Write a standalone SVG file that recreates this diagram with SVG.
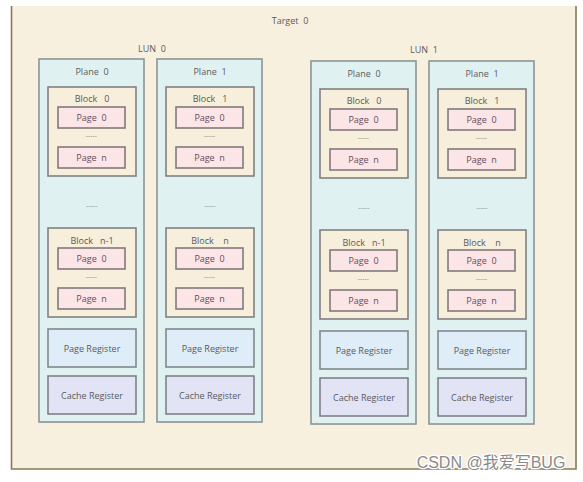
<svg xmlns="http://www.w3.org/2000/svg" width="583" height="482" viewBox="0 0 583 482" xml:space="preserve">
<style>
text{font-family:"Open Sans","Noto Sans","DejaVu Sans",sans-serif;font-size:9px;text-anchor:middle;dominant-baseline:central;fill:#5a5a5a;white-space:pre}
.plane{fill:#dff2f1;stroke:#8c9494;stroke-width:1.6}
.block{fill:#f7eedb;stroke:#808080;stroke-width:1.6}
.page{fill:#fbe5e6;stroke:#827a7b;stroke-width:1.6}
.preg{fill:#deedf8;stroke:#808888;stroke-width:1.6}
.creg{fill:#e3e3f6;stroke:#808088;stroke-width:1.6}
.pt{fill:#6a4a58}
.dash{font-size:7px;fill:#8a8a8a}
</style>
<defs>
<g id="blk">
<rect class="block" x="0" y="0" width="88" height="89"/>
<rect class="page" x="10" y="20" width="67" height="21"/>
<text class="pt" x="43.5" y="30.5">Page  0</text>
<text class="dash" x="43.5" y="48">-----</text>
<rect class="page" x="10" y="60" width="67" height="21"/>
<text class="pt" x="43.5" y="70.5">Page  n</text>
</g>
</defs>
<g id="target">
<rect x="11" y="6" width="565" height="463" fill="#f8f0df"/>
<path d="M11.5 6V469H576V6" fill="none" stroke="#867a5c" stroke-width="1.6"/>
<text x="290" y="20">Target  0</text>
</g>
<g id="lun0">
<text x="152" y="48">LUN  0</text>
<g id="lun0-plane0">
<rect class="plane" x="39" y="59" width="105" height="363"/>
<text x="92" y="71">Plane  0</text>
<g transform="translate(48,87)"><use href="#blk"/><text x="44" y="11.5">Block   0</text></g>
<text class="dash" x="92" y="205">-----</text>
<g transform="translate(48,228)"><use href="#blk"/><text x="44" y="12">Block   n-1</text></g>
<rect class="preg" x="48" y="329" width="88" height="38"/>
<text x="92" y="348">Page Register</text>
<rect class="creg" x="48" y="376" width="88" height="38"/>
<text x="92" y="395">Cache Register</text>
</g>
<g id="lun0-plane1">
<rect class="plane" x="157" y="59" width="105" height="363"/>
<text x="210" y="71">Plane  1</text>
<g transform="translate(166,87)"><use href="#blk"/><text x="44" y="11.5">Block   1</text></g>
<text class="dash" x="210" y="205">-----</text>
<g transform="translate(166,228)"><use href="#blk"/><text x="44" y="12">Block    n</text></g>
<rect class="preg" x="166" y="329" width="88" height="38"/>
<text x="210" y="348">Page Register</text>
<rect class="creg" x="166" y="376" width="88" height="38"/>
<text x="210" y="395">Cache Register</text>
</g>
</g>
<g id="lun1" transform="translate(272,2)">
<text x="152" y="47">LUN  1</text>
<g id="lun1-plane0">
<rect class="plane" x="39" y="59" width="105" height="363"/>
<text x="92" y="71">Plane  0</text>
<g transform="translate(48,87)"><use href="#blk"/><text x="44" y="11.5">Block   0</text></g>
<text class="dash" x="92" y="205">-----</text>
<g transform="translate(48,228)"><use href="#blk"/><text x="44" y="12">Block   n-1</text></g>
<rect class="preg" x="48" y="329" width="88" height="38"/>
<text x="92" y="348">Page Register</text>
<rect class="creg" x="48" y="376" width="88" height="38"/>
<text x="92" y="395">Cache Register</text>
</g>
<g id="lun1-plane1">
<rect class="plane" x="157" y="59" width="105" height="363"/>
<text x="210" y="71">Plane  1</text>
<g transform="translate(166,87)"><use href="#blk"/><text x="44" y="11.5">Block   1</text></g>
<text class="dash" x="210" y="205">-----</text>
<g transform="translate(166,228)"><use href="#blk"/><text x="44" y="12">Block    n</text></g>
<rect class="preg" x="166" y="329" width="88" height="38"/>
<text x="210" y="348">Page Register</text>
<rect class="creg" x="166" y="376" width="88" height="38"/>
<text x="210" y="395">Cache Register</text>
</g>
</g>
<g id="connectors"></g>
<text x="491" y="462" style="font-family:'Liberation Sans','Noto Sans CJK SC',sans-serif;font-size:16px;fill:#8a8a8a;stroke:#ffffff;stroke-width:2.5;paint-order:stroke">CSDN @我爱写BUG</text>
</svg>
